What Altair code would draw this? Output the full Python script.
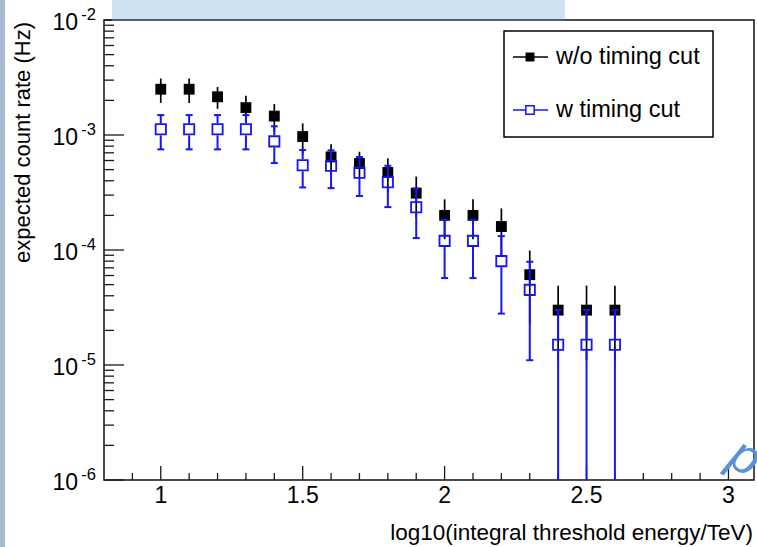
import altair as alt
import pandas as pd
import numpy as np

# ---------------- data ----------------
x_vals = [1.0, 1.1, 1.2, 1.3, 1.4, 1.5, 1.6, 1.7, 1.8, 1.9, 2.0, 2.1, 2.2, 2.3, 2.4, 2.5, 2.6]
wo_rate = [2.5e-3, 2.5e-3, 2.15e-3, 1.73e-3, 1.46e-3, 9.7e-4, 6.45e-4, 5.65e-4, 4.72e-4,
           3.12e-4, 2.0e-4, 2.0e-4, 1.6e-4, 6.1e-5, 3.0e-5, 3.0e-5, 3.0e-5]
wo_err = [6.0e-4, 6.0e-4, 4.6e-4, 4.6e-4, 4.0e-4, 2.9e-4, 1.85e-4, 1.5e-4, 1.55e-4,
          1.23e-4, 7.6e-5, 7.6e-5, 7.0e-5, 3.8e-5, 1.9e-5, 1.9e-5, 1.9e-5]
w_rate = [1.12e-3, 1.12e-3, 1.12e-3, 1.12e-3, 8.8e-4, 5.45e-4, 5.4e-4, 4.7e-4, 3.88e-4,
          2.35e-4, 1.2e-4, 1.2e-4, 8.0e-5, 4.5e-5, 1.5e-5, 1.5e-5, 1.5e-5]
w_err = [3.7e-4, 3.7e-4, 3.7e-4, 3.7e-4, 3.1e-4, 1.95e-4, 1.95e-4, 1.75e-4, 1.52e-4,
         1.08e-4, 6.3e-5, 6.3e-5, 5.2e-5, 3.4e-5, 1.5e-5, 1.5e-5, 1.5e-5]

series_names = ["w/o timing cut", "w timing cut"]
x_title = "log10(integral threshold energy/TeV)"
y_title = "expected count rate (Hz)"

x_major = [1.0, 1.5, 2.0, 2.5, 3.0]
x_major_labels = ["1", "1.5", "2", "2.5", "3"]
x_minor = [0.9, 1.1, 1.2, 1.3, 1.4, 1.6, 1.7, 1.8, 1.9, 2.1, 2.2, 2.3, 2.4,
           2.6, 2.7, 2.8, 2.9]
y_exponents = [-2, -3, -4, -5, -6]
y_minor_mult = [2, 3, 4, 5, 6, 7, 8, 9]

XMIN, XMAX = 0.8, 3.09
YMIN, YMAX = 1e-6, 1e-2
FONT = "Liberation Sans"
BLUE = "#1414ff"
W, H = 650, 460

# ---------------- tables ----------------
def make_frame(rates, errs):
    d = pd.DataFrame({"x": x_vals, "y": rates, "err": errs})
    d["hi"] = d["y"] + d["err"]
    d["lo"] = np.maximum(d["y"] - d["err"], YMIN)
    return d

df_wo = make_frame(wo_rate, wo_err)
df_w = make_frame(w_rate, w_err)

df_ymaj = pd.DataFrame({"v": [10.0 ** e for e in y_exponents],
                        "exp": [str(e) for e in y_exponents]})
df_ymin = pd.DataFrame({"v": [m * 10.0 ** e for e in y_exponents[1:] for m in y_minor_mult]})
df_xmaj = pd.DataFrame({"v": x_major, "lab": x_major_labels})
df_xmin = pd.DataFrame({"v": x_minor})
one = pd.DataFrame({"k": [0]})

xs = alt.Scale(domain=[XMIN, XMAX], nice=False, zero=False)
ys = alt.Scale(type="log", domain=[YMIN, YMAX], nice=False)


def X(f):
    return alt.X(f, type="quantitative", scale=xs, axis=None)


def Y(f):
    return alt.Y(f, type="quantitative", scale=ys, axis=None)


# ---------------- decorations outside the frame ----------------
left_strip = alt.Chart(one).mark_rect(color="#a9bbd3").encode(
    x=alt.value(-104), x2=alt.value(-99), y=alt.value(-20), y2=alt.value(H + 67))
top_box = alt.Chart(one).mark_rect(color="#cfe0f1").encode(
    x=alt.value(8), x2=alt.value(461), y=alt.value(-20), y2=alt.value(0))
top_box_line = alt.Chart(one).mark_rule(color="#4f5d70", strokeWidth=2).encode(
    x=alt.value(8), x2=alt.value(461), y=alt.value(0))

# ---------------- ticks ----------------
tick_col = "#1a1a1a"
y_major_ticks = alt.Chart(df_ymaj).mark_rule(color=tick_col, strokeWidth=1.3).encode(
    y=Y("v"), x=alt.value(0), x2=alt.value(20))
y_minor_ticks = alt.Chart(df_ymin).mark_rule(color=tick_col, strokeWidth=1.3).encode(
    y=Y("v"), x=alt.value(0), x2=alt.value(10))
x_major_ticks = alt.Chart(df_xmaj).mark_rule(color=tick_col, strokeWidth=1.3).encode(
    x=X("v"), y=alt.value(H), y2=alt.value(H - 14))
x_minor_ticks = alt.Chart(df_xmin).mark_rule(color=tick_col, strokeWidth=1.3).encode(
    x=X("v"), y=alt.value(H), y2=alt.value(H - 7))

# ---------------- tick labels & titles ----------------
y_lab_base = alt.Chart(df_ymaj).mark_text(
    align="right", baseline="middle", font=FONT, fontSize=23, dy=2.5, color="black"
).encode(y=Y("v"), x=alt.value(-26), text=alt.value("10"))
y_lab_exp = alt.Chart(df_ymaj).mark_text(
    align="right", baseline="middle", font=FONT, fontSize=16.5, dy=-5, color="black"
).encode(y=Y("v"), x=alt.value(-8), text="exp:N")
x_lab = alt.Chart(df_xmaj).mark_text(
    align="center", baseline="alphabetic", font=FONT, fontSize=23, color="black"
).encode(x=X("v"), y=alt.value(H + 23), text="lab:N")

x_title_t = alt.Chart(one).mark_text(
    align="right", baseline="alphabetic", font=FONT, fontSize=22.5, color="black"
).encode(x=alt.value(W - 1), y=alt.value(H + 60), text=alt.value(x_title))
y_title_t = alt.Chart(one).mark_text(
    align="right", baseline="alphabetic", font=FONT, fontSize=22, angle=270, color="black"
).encode(x=alt.value(-74), y=alt.value(2), text=alt.value(y_title))

# ---------------- data layers ----------------
wo_bars = alt.Chart(df_wo).mark_rule(color="black", strokeWidth=1.7).encode(
    x=X("x"), y=Y("lo"), y2="hi:Q")
wo_pts = alt.Chart(df_wo).mark_point(
    shape="square", filled=True, size=118, color="black", opacity=1).encode(
    x=X("x"), y=Y("y"))

w_up = alt.Chart(df_w).mark_rule(color=BLUE, strokeWidth=2, y2Offset=-6).encode(
    x=X("x"), y=Y("hi"), y2="y:Q")
w_dn = alt.Chart(df_w).mark_rule(color=BLUE, strokeWidth=2, yOffset=6).encode(
    x=X("x"), y=Y("y"), y2="lo:Q")
w_cap_hi = alt.Chart(df_w).mark_tick(
    orient="horizontal", size=7, thickness=2, color=BLUE, opacity=1).encode(
    x=X("x"), y=Y("hi"))
w_cap_lo = alt.Chart(df_w).transform_filter(f"datum.lo > {YMIN}").mark_tick(
    orient="horizontal", size=7, thickness=2, color=BLUE, opacity=1).encode(
    x=X("x"), y=Y("lo"))
w_pts = alt.Chart(df_w).mark_point(
    shape="square", filled=False, size=105, strokeWidth=1.8, color=BLUE, opacity=1).encode(
    x=X("x"), y=Y("y"))

# ---------------- legend (drawn by hand, ROOT style) ----------------
leg_box = alt.Chart(one).mark_rect(fill="white", stroke="black", strokeWidth=1.5).encode(
    x=alt.value(400), x2=alt.value(609), y=alt.value(11), y2=alt.value(117))
leg_line1 = alt.Chart(one).mark_rule(color="black", strokeWidth=1.5).encode(
    x=alt.value(409), x2=alt.value(444), y=alt.value(37))
leg_line2 = alt.Chart(one).mark_rule(color=BLUE, strokeWidth=1.5).encode(
    x=alt.value(409), x2=alt.value(444), y=alt.value(90))
leg_pt1 = alt.Chart(one).mark_point(shape="square", filled=True, size=80, color="black",
                                    opacity=1).encode(x=alt.value(426), y=alt.value(37))
leg_pt2 = alt.Chart(one).mark_point(shape="square", filled=True, size=70, fill="white",
                                    stroke=BLUE, strokeWidth=1.5, opacity=1).encode(
    x=alt.value(426), y=alt.value(90))
leg_t1 = alt.Chart(one).mark_text(align="left", baseline="middle", font=FONT, fontSize=23.5,
                                  color="black").encode(
    x=alt.value(452), y=alt.value(37), text=alt.value(series_names[0]))
leg_t2 = alt.Chart(one).mark_text(align="left", baseline="middle", font=FONT, fontSize=23.5,
                                  color="black").encode(
    x=alt.value(452), y=alt.value(90), text=alt.value(series_names[1]))

# watermark fragment bottom right (cut by the page edge, as in the reference)
wm = alt.Chart(one).mark_text(align="center", baseline="middle", font=FONT, fontSize=50,
                              fontStyle="italic", angle=28, color="#5b90da").encode(
    x=alt.value(641), y=alt.value(438), text=alt.value("p"))

chart = alt.layer(
    left_strip, top_box,
    y_major_ticks, y_minor_ticks, x_major_ticks, x_minor_ticks,
    y_lab_base, y_lab_exp, x_lab, x_title_t, y_title_t,
    wo_bars, wo_pts, w_up, w_dn, w_cap_hi, w_cap_lo, w_pts,
    leg_box, leg_line1, leg_line2, leg_pt1, leg_pt2, leg_t1, leg_t2,
    wm, top_box_line,
).properties(
    width=W, height=H,
    autosize=alt.AutoSizeParams(type="none"),
    padding={"left": 104, "top": 20, "right": 3, "bottom": 67},
).configure(background="white").configure_view(stroke="#111111", strokeWidth=1.5)

chart.save("out.html", embed_options={"renderer": "svg", "actions": False})
